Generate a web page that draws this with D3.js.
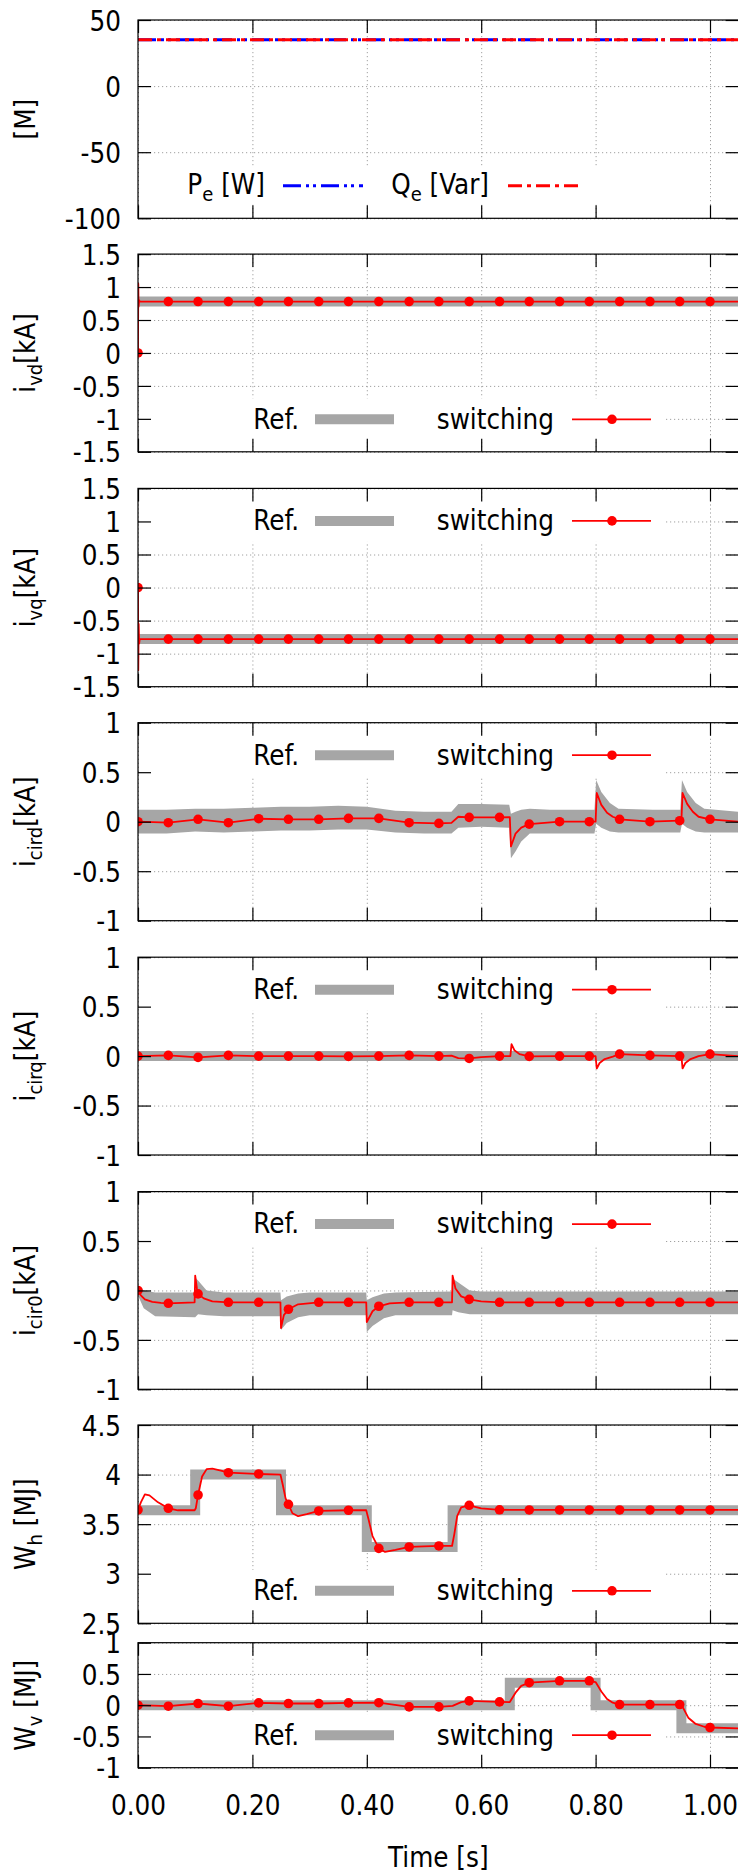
<!DOCTYPE html>
<html><head><meta charset="utf-8">
<script src="https://cdn.jsdelivr.net/npm/d3@7"></script>
<style>
html,body{margin:0;padding:0;background:#fff;}
svg{display:block;}
text{font-family:"DejaVu Sans Condensed","DejaVu Sans",sans-serif;font-stretch:condensed;fill:#000;white-space:pre;}
</style></head><body>
<svg id="chart" width="738" height="1874"></svg>
<script>
// ---------------- data ----------------
const xDomain = [0, 1.05];
const xTicks = [0, 0.2, 0.4, 0.6, 0.8, 1.0];
const xTickLabels = ["0.00", "0.20", "0.40", "0.60", "0.80", "1.00"];
const xTitle = "Time [s]";

const markerTimes = [0, 0.053, 0.105, 0.158, 0.211, 0.263, 0.316, 0.368, 0.421, 0.474, 0.526, 0.579, 0.632, 0.684, 0.737, 0.789, 0.842, 0.895, 0.947, 1.0];

// panel 1 : Pe, Qe [M]
const p1T = [0, 1.05];
const peV = [35, 35];
const qeV = [35, 35];
const p1Ticks = [-100, -50, 0, 50];

// panel 2 : ivd
const ref2T = [0, 1.05];
const ref2V = [0.78, 0.78];
const sw2Mk = [0, 0.78, 0.78, 0.78, 0.78, 0.78, 0.78, 0.78, 0.78, 0.78, 0.78, 0.78, 0.78, 0.78, 0.78, 0.78, 0.78, 0.78, 0.78, 0.78];
const sw2ExT = [0.0005, 0.001, 0.002, 0.003, 1.05];
const sw2ExV = [1.05, 0.70, 0.80, 0.78, 0.78];
const p2Ticks = [-1.5, -1, -0.5, 0, 0.5, 1, 1.5];

// panel 3 : ivq
const ref3T = [0, 1.05];
const ref3V = [-0.78, -0.78];
const sw3Mk = [0, -0.78, -0.78, -0.78, -0.78, -0.78, -0.78, -0.78, -0.78, -0.78, -0.78, -0.78, -0.78, -0.78, -0.78, -0.78, -0.78, -0.78, -0.78, -0.78];
const sw3ExT = [0.0005, 0.0012, 0.002, 0.003, 1.05];
const sw3ExV = [-1.25, -0.55, -0.85, -0.78, -0.78];
const p3Ticks = [-1.5, -1, -0.5, 0, 0.5, 1, 1.5];

// panel 4 : icird
const ref4T  = [0, 0.05, 0.1, 0.15, 0.2, 0.25, 0.3, 0.35, 0.4, 0.45, 0.5, 0.548, 0.56, 0.6, 0.649, 0.652, 0.66, 0.67, 0.685, 0.72, 0.76, 0.798, 0.801, 0.81, 0.825, 0.84, 0.9, 0.948, 0.951, 0.96, 0.975, 0.99, 1.05];
const ref4Hi = [0.12, 0.12, 0.13, 0.13, 0.14, 0.15, 0.15, 0.16, 0.15, 0.11, 0.10, 0.10, 0.18, 0.18, 0.17, 0.08, 0.10, 0.12, 0.13, 0.12, 0.12, 0.12, 0.42, 0.30, 0.19, 0.13, 0.12, 0.12, 0.42, 0.30, 0.19, 0.13, 0.10];
const ref4Lo = [-0.12, -0.12, -0.10, -0.11, -0.10, -0.09, -0.09, -0.08, -0.08, -0.11, -0.12, -0.12, -0.06, -0.05, -0.06, -0.37, -0.30, -0.20, -0.12, -0.12, -0.12, -0.12, -0.02, -0.06, -0.10, -0.11, -0.11, -0.11, -0.02, -0.06, -0.10, -0.11, -0.11];
const sw4Mk = [0, -0.01, 0.024, -0.01, 0.03, 0.024, 0.024, 0.034, 0.034, -0.01, -0.017, 0.044, 0.044, -0.024, 0, 0, 0.024, 0, 0.01, 0.024];
const sw4ExT = [0.548, 0.56, 0.65, 0.652, 0.66, 0.67, 0.8, 0.802, 0.81, 0.82, 0.83, 0.95, 0.952, 0.96, 0.97, 0.98, 1.05];
const sw4ExV = [-0.012, 0.05, 0.045, -0.25, -0.12, -0.06, 0.0, 0.29, 0.17, 0.09, 0.05, 0.01, 0.29, 0.18, 0.10, 0.05, 0.0];
const p4Ticks = [-1, -0.5, 0, 0.5, 1];

// panel 5 : icirq
const ref5T = [0, 1.05];
const ref5V = [0, 0];
const sw5Mk = [0, 0.007, -0.013, 0.007, 0, 0, 0, -0.003, 0, 0.007, 0, -0.024, 0, -0.003, 0, 0, 0.02, 0.007, 0, 0.02];
const sw5ExT = [0.548, 0.56, 0.6, 0.651, 0.653, 0.658, 0.667, 0.8, 0.802, 0.807, 0.816, 0.83, 0.95, 0.952, 0.957, 0.966, 0.98, 1.05];
const sw5ExV = [0.005, -0.02, -0.01, 0.0, 0.12, 0.06, 0.02, 0.0, -0.125, -0.07, -0.03, -0.005, 0.0, -0.125, -0.07, -0.03, 0.0, 0.0];
const p5Ticks = [-1, -0.5, 0, 0.5, 1];

// panel 6 : icir0
const ref6T  = [0, 0.01, 0.03, 0.099, 0.1, 0.105, 0.12, 0.15, 0.249, 0.25, 0.26, 0.28, 0.3, 0.399, 0.4, 0.41, 0.43, 0.45, 0.549, 0.55, 0.56, 0.58, 0.6, 0.8, 1.05];
const ref6Hi = [0.05, 0.0, -0.02, -0.02, 0.13, 0.10, 0.0, -0.02, -0.02, -0.10, -0.06, -0.03, -0.02, -0.02, -0.10, -0.07, -0.03, -0.02, -0.01, 0.12, 0.08, 0.0, -0.01, -0.01, -0.01];
const ref6Lo = [-0.05, -0.18, -0.26, -0.27, -0.27, -0.24, -0.25, -0.26, -0.26, -0.40, -0.33, -0.27, -0.25, -0.25, -0.42, -0.36, -0.28, -0.25, -0.25, -0.20, -0.22, -0.24, -0.24, -0.24, -0.24];
const sw6Mk = [0, -0.13, -0.035, -0.12, -0.12, -0.19, -0.12, -0.12, -0.16, -0.12, -0.12, -0.09, -0.12, -0.12, -0.12, -0.12, -0.12, -0.12, -0.12, -0.12];
const sw6ExT = [0.005, 0.012, 0.025, 0.04, 0.099, 0.1, 0.103, 0.115, 0.13, 0.249, 0.25, 0.255, 0.28, 0.399, 0.4, 0.41, 0.44, 0.549, 0.55, 0.555, 0.565, 0.6, 1.05];
const sw6ExV = [-0.05, -0.09, -0.115, -0.125, -0.12, 0.15, 0.02, -0.08, -0.11, -0.12, -0.38, -0.25, -0.14, -0.12, -0.32, -0.21, -0.13, -0.12, 0.15, 0.02, -0.06, -0.11, -0.12];
const p6Ticks = [-1, -0.5, 0, 0.5, 1];

// panel 7 : Wh
const ref7T = [0, 0.1, 0.25, 0.4, 0.55, 1.05];
const ref7V = [3.64, 4.0, 3.64, 3.27, 3.64, 3.64];
const sw7Mk = [3.643, 3.66, 3.794, 4.019, 4.006, 3.70, 3.633, 3.64, 3.256, 3.27, 3.28, 3.69, 3.645, 3.643, 3.643, 3.643, 3.643, 3.643, 3.643, 3.643];
const sw7ExT = [0.005, 0.012, 0.02, 0.035, 0.07, 0.099, 0.101, 0.112, 0.12, 0.13, 0.145, 0.249, 0.253, 0.258, 0.27, 0.28, 0.295, 0.399, 0.403, 0.41, 0.432, 0.45, 0.549, 0.553, 0.558, 0.565, 0.6, 1.05];
const sw7ExV = [3.72, 3.80, 3.79, 3.72, 3.64, 3.64, 3.66, 3.98, 4.055, 4.06, 4.04, 4.0, 3.9, 3.76, 3.61, 3.58, 3.60, 3.64, 3.55, 3.38, 3.22, 3.24, 3.28, 3.40, 3.58, 3.67, 3.66, 3.643];
const p7Ticks = [2.5, 3, 3.5, 4, 4.5];

// panel 8 : Wv
const ref8T = [0, 0.65, 0.8, 0.95, 1.05];
const ref8V = [0, 0.36, 0, -0.37, -0.37];
const sw8Mk = [0, -0.016, 0.027, -0.016, 0.037, 0.027, 0.027, 0.037, 0.04, -0.027, -0.027, 0.069, 0.053, 0.36, 0.39, 0.39, 0.01, 0.01, 0.01, -0.357];
const sw8ExT = [0.55, 0.565, 0.65, 0.66, 0.67, 0.8, 0.81, 0.82, 0.83, 0.95, 0.962, 0.975, 0.99, 1.05];
const sw8ExV = [-0.01, 0.05, 0.05, 0.2, 0.31, 0.37, 0.22, 0.1, 0.04, 0.01, -0.2, -0.3, -0.345, -0.37];
const p8Ticks = [-1, -0.5, 0, 0.5, 1];

const legendRef = "Ref.";
const legendSw = "switching";

// ---------------- layout ----------------
const COL_GRAY = "#a6a6a6", COL_RED = "#ff0000", COL_BLUE = "#0000ff";
const FS = 27.5, FSUB = 20;
const L = 138, R = 138 + 572 * 1.05;
const x = d3.scaleLinear().domain(xDomain).range([L, R]);

const zip = (ts, vs) => ts.map((t, i) => ({t, v: vs[i]}));
const swPts = (mk, exT, exV) => zip(markerTimes, mk).concat(zip(exT, exV)).sort((a, b) => a.t - b.t);

const panels = [
  {top: 20, h: 198.3, dom: [-100, 50], ticks: p1Ticks, label: [["[M]", 0]], kind: "pq", legend: "bottom"},
  {top: 254.1, h: 197.7, dom: [-1.5, 1.5], ticks: p2Ticks, label: [["i", 0], ["vd", 1], ["[kA]", 0]], ref: {line: zip(ref2T, ref2V)}, mk: sw2Mk, sw: swPts(sw2Mk, sw2ExT, sw2ExV), legend: "bottom"},
  {top: 488.4, h: 198.3, dom: [-1.5, 1.5], ticks: p3Ticks, label: [["i", 0], ["vq", 1], ["[kA]", 0]], ref: {line: zip(ref3T, ref3V)}, mk: sw3Mk, sw: swPts(sw3Mk, sw3ExT, sw3ExV), legend: "top"},
  {top: 722.7, h: 198, dom: [-1, 1], ticks: p4Ticks, label: [["i", 0], ["cird", 1], ["[kA]", 0]], ref: {band: ref4T.map((t, i) => ({t, hi: ref4Hi[i], lo: ref4Lo[i]}))}, mk: sw4Mk, sw: swPts(sw4Mk, sw4ExT, sw4ExV), legend: "top"},
  {top: 957.2, h: 197.8, dom: [-1, 1], ticks: p5Ticks, label: [["i", 0], ["cirq", 1], ["[kA]", 0]], ref: {line: zip(ref5T, ref5V)}, mk: sw5Mk, sw: swPts(sw5Mk, sw5ExT, sw5ExV), legend: "top"},
  {top: 1191.6, h: 197.7, dom: [-1, 1], ticks: p6Ticks, label: [["i", 0], ["cir0", 1], ["[kA]", 0]], ref: {band: ref6T.map((t, i) => ({t, hi: ref6Hi[i], lo: ref6Lo[i]}))}, mk: sw6Mk, sw: swPts(sw6Mk, sw6ExT, sw6ExV), legend: "top"},
  {top: 1425, h: 198.3, dom: [2.5, 4.5], ticks: p7Ticks, label: [["W", 0], ["h", 1], [" [MJ]", 0]], ref: {line: zip(ref7T, ref7V), step: true}, mk: sw7Mk, sw: swPts(sw7Mk, sw7ExT, sw7ExV), legend: "bottom"},
  {top: 1642.7, h: 125, dom: [-1, 1], ticks: p8Ticks, label: [["W", 0], ["v", 1], [" [MJ]", 0]], ref: {line: zip(ref8T, ref8V), step: true}, mk: sw8Mk, sw: swPts(sw8Mk, sw8ExT, sw8ExV), legend: "bottom", xlabels: true}
];

const svg = d3.select("#chart");
svg.append("rect").attr("width", 738).attr("height", 1874).attr("fill", "#fff");
const fmt = d => String(d);

function addRich(sel, parts) {
  parts.forEach(([s, sub], i) => {
    const ts = sel.append("tspan").text(s);
    if (sub) ts.attr("font-size", FSUB).attr("dy", 7);
    else if (i > 0 && parts[i - 1][1]) ts.attr("dy", -7);
  });
}

panels.forEach((p, pi) => {
  const top = p.top, bot = p.top + p.h;
  const y = d3.scaleLinear().domain(p.dom).range([bot, top]);
  const g = svg.append("g");
  const clipId = "clip" + pi;
  svg.append("clipPath").attr("id", clipId).append("rect")
    .attr("x", L).attr("y", top).attr("width", R - L).attr("height", p.h);

  // grid
  const gy = g.append("g").attr("transform", `translate(${L},0)`)
    .call(d3.axisRight(y).tickValues(p.ticks).tickSize(R - L).tickFormat(""));
  const gx = g.append("g").attr("transform", `translate(0,${top})`)
    .call(d3.axisBottom(x).tickValues(xTicks).tickSize(p.h).tickFormat(""));
  [gy, gx].forEach(a => {
    a.select(".domain").remove();
    a.selectAll("line").attr("stroke", "#a0a0a0").attr("stroke-width", 1).attr("stroke-dasharray", "1.2,2.8");
  });

  const dg = g.append("g").attr("clip-path", `url(#${clipId})`);

  if (p.kind === "pq") {
    const ln = d3.line().x(d => x(d.t)).y(d => y(d.v));
    dg.append("path").attr("d", ln(zip(p1T, peV))).attr("fill", "none")
      .attr("stroke", COL_BLUE).attr("stroke-width", 3).attr("stroke-dasharray", "18,5,3,4,3,5");
    dg.append("path").attr("d", ln(zip(p1T, qeV))).attr("fill", "none")
      .attr("stroke", COL_RED).attr("stroke-width", 3).attr("stroke-dasharray", "14,5,4,5");
  } else {
    if (p.ref.band) {
      const ar = d3.area().x(d => x(d.t)).y0(d => y(d.lo)).y1(d => y(d.hi));
      dg.append("path").attr("d", ar(p.ref.band)).attr("fill", COL_GRAY);
    } else {
      const ln = d3.line().x(d => x(d.t)).y(d => y(d.v));
      if (p.ref.step) ln.curve(d3.curveStepAfter);
      dg.append("path").attr("d", ln(p.ref.line)).attr("fill", "none")
        .attr("stroke", COL_GRAY).attr("stroke-width", 10).attr("stroke-linejoin", "miter");
    }
    const ls = d3.line().x(d => x(d.t)).y(d => y(d.v));
    dg.append("path").attr("d", ls(p.sw)).attr("fill", "none")
      .attr("stroke", COL_RED).attr("stroke-width", 1.8).attr("stroke-linejoin", "round");
    dg.selectAll("circle").data(zip(markerTimes, p.mk)).join("circle")
      .attr("cx", d => x(d.t)).attr("cy", d => y(d.v)).attr("r", 4.8).attr("fill", COL_RED);
  }

  // legend
  const ly = p.legend === "top" ? top + 32.5 : bot - 32.5;
  const lg = g.append("g");
  if (p.kind === "pq") {
    lg.append("rect").attr("x", L + 2).attr("y", ly - 19).attr("width", 460).attr("height", 38).attr("fill", "#fff");
    const t1 = lg.append("text").attr("x", 265).attr("y", ly).attr("dy", "0.3em").attr("text-anchor", "end").attr("font-size", FS);
    addRich(t1, [["P", 0], ["e", 1], [" [W]", 0]]);
    lg.append("line").attr("x1", 283).attr("x2", 363).attr("y1", ly).attr("y2", ly)
      .attr("stroke", COL_BLUE).attr("stroke-width", 3).attr("stroke-dasharray", "18,5,3,4,3,5");
    const t2 = lg.append("text").attr("x", 489).attr("y", ly).attr("dy", "0.3em").attr("text-anchor", "end").attr("font-size", FS);
    addRich(t2, [["Q", 0], ["e", 1], [" [Var]", 0]]);
    lg.append("line").attr("x1", 508).attr("x2", 583).attr("y1", ly).attr("y2", ly)
      .attr("stroke", COL_RED).attr("stroke-width", 3).attr("stroke-dasharray", "14,5,4,5");
  } else {
    lg.append("rect").attr("x", L + 2).attr("y", ly - 21).attr("width", 666 - L - 2).attr("height", 42).attr("fill", "#fff");
    lg.append("text").attr("x", 299).attr("y", ly).attr("dy", "0.34em").attr("text-anchor", "end").attr("font-size", FS).text(legendRef);
    lg.append("line").attr("x1", 315).attr("x2", 394).attr("y1", ly).attr("y2", ly)
      .attr("stroke", COL_GRAY).attr("stroke-width", 10);
    lg.append("text").attr("x", 554).attr("y", ly).attr("dy", "0.34em").attr("text-anchor", "end").attr("font-size", FS).text(legendSw);
    lg.append("line").attr("x1", 572).attr("x2", 651).attr("y1", ly).attr("y2", ly)
      .attr("stroke", COL_RED).attr("stroke-width", 1.8);
    lg.append("circle").attr("cx", 612).attr("cy", ly).attr("r", 4.8).attr("fill", COL_RED);
  }

  // border & ticks
  const ax = [];
  ax.push(g.append("g").attr("transform", `translate(${L},0)`)
    .call(d3.axisLeft(y).tickValues(p.ticks).tickFormat(fmt).tickSize(-13).tickPadding(17)));
  ax.push(g.append("g").attr("transform", `translate(${R},0)`)
    .call(d3.axisRight(y).tickValues(p.ticks).tickFormat("").tickSize(-13)));
  ax.push(g.append("g").attr("transform", `translate(0,${top})`)
    .call(d3.axisTop(x).tickValues(xTicks).tickFormat("").tickSize(-13)));
  const bAx = g.append("g").attr("transform", `translate(0,${bot})`)
    .call(d3.axisBottom(x).tickValues(xTicks).tickFormat((d, i) => p.xlabels ? xTickLabels[i] : "").tickSize(-13));
  ax.push(bAx);
  ax.forEach(a => {
    a.select(".domain").remove();
    a.selectAll("line").attr("stroke", "#000").attr("stroke-width", 1.2);
    a.selectAll("text").attr("font-size", FS).attr("font-family", null).attr("fill", "#000");
  });
  ax[0].selectAll("text").attr("dy", "0.37em");
  if (p.xlabels) bAx.selectAll("text").attr("y", 47.5).attr("dy", null);

  g.append("rect").attr("x", L).attr("y", top).attr("width", R - L).attr("height", p.h)
    .attr("fill", "none").attr("stroke", "#000").attr("stroke-width", 1.2);

  // y label
  const yl = g.append("text").attr("transform", `translate(35,${(top + bot) / 2}) rotate(-90)`)
    .attr("text-anchor", "middle").attr("font-size", FS);
  addRich(yl, p.label);

  if (p.xlabels) {
    g.append("text").attr("x", (L + R) / 2).attr("y", 1867).attr("text-anchor", "middle")
      .attr("font-size", FS).text(xTitle);
  }
});
</script>
</body></html>
